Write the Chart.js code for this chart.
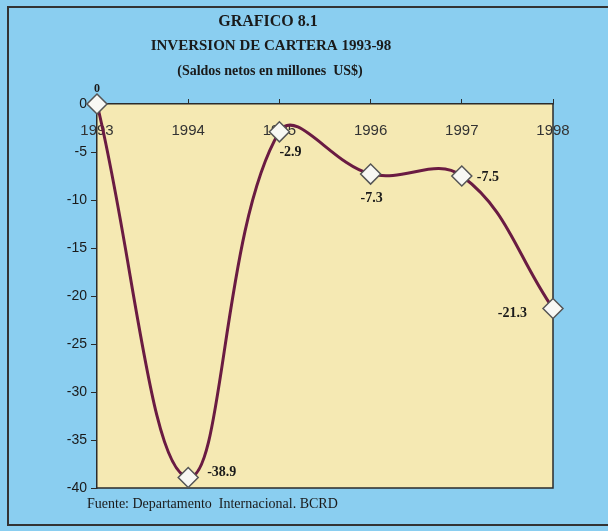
<!DOCTYPE html>
<html>
<head>
<meta charset="utf-8">
<script src="https://cdn.jsdelivr.net/npm/chart.js@4"></script>
<style>
  html, body { margin: 0; padding: 0; background: #8aceF0; }
  #wrap { width: 608px; height: 531px; }
</style>
</head>
<body>
<div id="wrap"><canvas id="grafico" width="608" height="531"></canvas></div>
<script>
const grafico = document.getElementById('grafico');

// datos del grafico
const anos = ['1993', '1994', '1995', '1996', '1997', '1998'];
const saldos = [0, -38.9, -2.9, -7.3, -7.5, -21.3];
const etiquetas = ['0', '-38.9', '-2.9', '-7.3', '-7.5', '-21.3'];
const yMin = -40;
const yMax = 0;
const yPaso = 5;

const titulo = ['GRAFICO 8.1', 'INVERSION DE CARTERA 1993-98'];
const subtitulo = '(Saldos netos en millones  US$)';
const fuente = 'Fuente: Departamento  Internacional. BCRD';

// posicion de cada etiqueta respecto a su punto (dx, dy, alineacion)
var posEtiquetas = [
  { dx: 0, dy: -15, align: 'center' },
  { dx: 19, dy: -5, align: 'left' },
  { dx: 0, dy: 21, align: 'left' },
  { dx: 1, dy: 24, align: 'center' },
  { dx: 15, dy: 1, align: 'left' },
  { dx: -26, dy: 5, align: 'right' }
];

var azul = '#8aceF0';
var amarillo = '#f5e9b3';
var borde = '#2b2b2b';

// fondo, marco y titulos
const fondo = {
  id: 'fondo',
  beforeDraw(chart) {
    const ctx = chart.ctx;
    const a = chart.chartArea;
    ctx.save();
    ctx.fillStyle = azul;
    ctx.fillRect(0, 0, chart.width, chart.height);
    ctx.strokeStyle = '#333';
    ctx.lineWidth = 2;
    ctx.strokeRect(8, 7, 640, 518);
    ctx.fillStyle = amarillo;
    ctx.fillRect(a.left, a.top, a.right - a.left, a.bottom - a.top);

    ctx.fillStyle = '#1a1a1a';
    ctx.textAlign = 'center';
    ctx.textBaseline = 'middle';
    ctx.font = 'bold 16px "Liberation Serif"';
    ctx.fillText(titulo[0], 268, 22);
    ctx.font = 'bold 15px "Liberation Serif"';
    ctx.fillText(titulo[1], 271, 46);
    ctx.font = 'bold 14px "Liberation Serif"';
    ctx.fillText(subtitulo, 270, 71);

    ctx.textAlign = 'left';
    ctx.font = '14px "Liberation Serif"';
    ctx.fillText(fuente, 87, 504);
    ctx.restore();
  },
  beforeDatasetsDraw(chart) {
    // los años van debajo del eje superior, dentro del area
    const ctx = chart.ctx;
    const x = chart.scales.x;
    ctx.save();
    ctx.fillStyle = '#333';
    ctx.font = '15px "Liberation Sans"';
    ctx.textAlign = 'center';
    ctx.textBaseline = 'middle';
    anos.forEach((ano, i) => {
      ctx.fillText(ano, x.getPixelForValue(i), chart.chartArea.top + 27);
    });
    // lados derecho e inferior del area
    const a = chart.chartArea;
    ctx.strokeStyle = borde;
    ctx.lineWidth = 1.5;
    ctx.beginPath();
    ctx.moveTo(a.right, a.top);
    ctx.lineTo(a.right, a.bottom);
    ctx.lineTo(a.left, a.bottom);
    ctx.stroke();
    ctx.restore();
  },
  afterDatasetsDraw(chart) {
    const ctx = chart.ctx;
    const meta = chart.getDatasetMeta(0);
    ctx.save();
    ctx.fillStyle = '#1a1a1a';
    ctx.textBaseline = 'middle';
    meta.data.forEach((p, i) => {
      const pos = posEtiquetas[i];
      ctx.font = i === 0 ? 'bold 12px "Liberation Serif"' : 'bold 14px "Liberation Serif"';
      ctx.textAlign = pos.align;
      ctx.fillText(etiquetas[i], p.x + pos.dx, p.y + pos.dy);
    });
    ctx.restore();
  }
};

var dados = {
  labels: anos,
  datasets: [{
    data: saldos,
    borderColor: '#6a1b42',
    borderWidth: 3,
    tension: 0.4,
    pointStyle: 'rectRot',
    pointRadius: 10,
    pointHoverRadius: 10,
    pointBackgroundColor: '#f8f8f4',
    pointBorderColor: '#555',
    pointBorderWidth: 1.5,
    clip: false
  }]
};

var opcoes = {
  responsive: false,
  animation: false,
  layout: {
    padding: { left: 0, top: 94, right: 55, bottom: 43 }
  },
  scales: {
    x: {
      position: 'top',
      offset: false,
      ticks: { display: false },
      grid: { drawOnChartArea: false, tickLength: 5, color: borde },
      border: { color: borde, width: 1.5 },
      afterFit(s) { s.height = 10; }
    },
    y: {
      min: yMin,
      max: yMax,
      ticks: {
        stepSize: yPaso,
        color: '#1a1a1a',
        padding: 4,
        font: { family: 'Liberation Sans', size: 14 }
      },
      grid: { drawOnChartArea: false, tickLength: 6, color: borde },
      border: { color: borde, width: 1.5 },
      afterFit(s) { s.width = 97; }
    }
  },
  plugins: {
    legend: { display: false },
    tooltip: { enabled: false }
  }
};

const chartCartera = new Chart(grafico, {
  type: 'line',
  data: dados,
  options: opcoes,
  plugins: [fondo]
});
</script>
</body>
</html>
